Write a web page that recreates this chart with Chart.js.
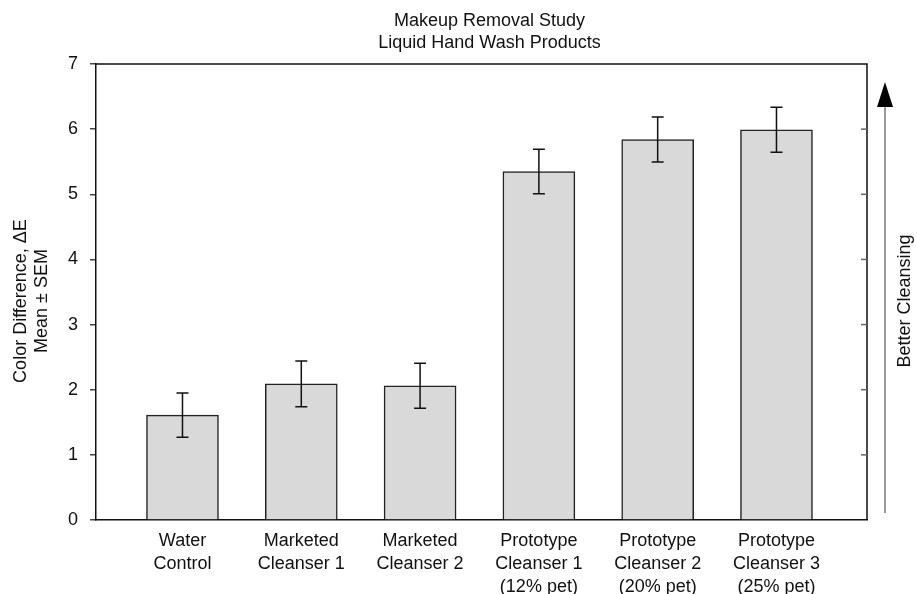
<!DOCTYPE html>
<html>
<head>
<meta charset="utf-8">
<script src="https://cdn.jsdelivr.net/npm/chart.js@4"></script>
<style>
  html, body { margin: 0; padding: 0; background: #fff; }
  #wrap { width: 917px; height: 594px; }
</style>
</head>
<body>
<div id="wrap"><canvas id="makeup-chart"></canvas></div>
<script>
const products = [
  ["Water", "Control"],
  ["Marketed", "Cleanser 1"],
  ["Marketed", "Cleanser 2"],
  ["Prototype", "Cleanser 1", "(12% pet)"],
  ["Prototype", "Cleanser 2", "(20% pet)"],
  ["Prototype", "Cleanser 3", "(25% pet)"],
];
const positions = [1, 2, 3, 4, 5, 6];
const meanDeltaE = [1.61, 2.09, 2.06, 5.35, 5.84, 5.99];
const semDeltaE = [0.34, 0.35, 0.345, 0.34, 0.345, 0.345];
const yTicks = [0, 1, 2, 3, 4, 5, 6, 7];

const FONT = "'Liberation Sans', Arial, Helvetica, sans-serif";

// frame, right-side ticks, error bars, titles and the arrow
const extras = {
  id: "extras",
  afterDatasetsDraw(chart) {
    const ctx = chart.ctx;
    const area = chart.chartArea;
    const xs = chart.scales.x;
    const ys = chart.scales.y;
    ctx.save();

    // error bars
    ctx.strokeStyle = "#111";
    ctx.lineWidth = 1.5;
    meanDeltaE.forEach((m, i) => {
      const x = xs.getPixelForValue(positions[i]);
      const top = ys.getPixelForValue(m + semDeltaE[i]);
      const bot = ys.getPixelForValue(m - semDeltaE[i]);
      ctx.beginPath();
      ctx.moveTo(x, top);
      ctx.lineTo(x, bot);
      ctx.moveTo(x - 6, top);
      ctx.lineTo(x + 6, top);
      ctx.moveTo(x - 6, bot);
      ctx.lineTo(x + 6, bot);
      ctx.stroke();
    });

    // box around plot
    ctx.strokeStyle = "#111";
    ctx.lineWidth = 1.5;
    ctx.beginPath();
    ctx.moveTo(area.left, area.top);
    ctx.lineTo(area.right, area.top);
    ctx.lineTo(area.right, area.bottom);
    ctx.stroke();

    // inner ticks on the right side
    ctx.strokeStyle = "#666";
    yTicks.forEach(v => {
      if (v === 0 || v === 7) return;
      const y = ys.getPixelForValue(v);
      ctx.beginPath();
      ctx.moveTo(area.right - 6, y);
      ctx.lineTo(area.right, y);
      ctx.stroke();
    });

    // titles
    ctx.fillStyle = "#111";
    ctx.font = "18px " + FONT;
    ctx.textAlign = "center";
    ctx.textBaseline = "middle";
    const cx = (area.left + area.right) / 2 + 8;
    ctx.fillText("Makeup Removal Study", cx, 21);
    ctx.fillText("Liquid Hand Wash Products", cx, 43);

    // y axis title
    const cy = (area.top + area.bottom) / 2 + 9;
    ctx.save();
    ctx.translate(21, cy);
    ctx.rotate(-Math.PI / 2);
    ctx.fillText("Color Difference, \u0394E", 0, 0);
    ctx.restore();
    ctx.save();
    ctx.translate(42, cy);
    ctx.rotate(-Math.PI / 2);
    ctx.fillText("Mean \u00b1 SEM", 0, 0);
    ctx.restore();

    // "better cleansing" arrow
    const ax = area.right + 18;
    ctx.strokeStyle = "#777";
    ctx.lineWidth = 1.5;
    ctx.beginPath();
    ctx.moveTo(ax, area.bottom - 7);
    ctx.lineTo(ax, area.top + 40);
    ctx.stroke();
    ctx.fillStyle = "#000";
    ctx.beginPath();
    ctx.moveTo(ax, area.top + 18);
    ctx.lineTo(ax - 8, area.top + 43);
    ctx.lineTo(ax + 8, area.top + 43);
    ctx.closePath();
    ctx.fill();

    ctx.fillStyle = "#111";
    ctx.save();
    ctx.translate(area.right + 38, cy);
    ctx.rotate(-Math.PI / 2);
    ctx.fillText("Better Cleansing", 0, 0);
    ctx.restore();

    ctx.restore();
  },
};

const config = {
  type: "bar",
  data: {
    datasets: [
      {
        label: "Color Difference",
        data: positions.map((p, i) => ({ x: p, y: meanDeltaE[i] })),
        backgroundColor: "#d9d9d9",
        borderColor: "#222",
        borderWidth: 1.5,
        barThickness: 72,
      },
    ],
  },
  options: {
    responsive: true,
    maintainAspectRatio: false,
    animation: false,
    layout: { padding: { top: 64, right: 50, left: 0, bottom: 0 } },
    plugins: {
      legend: { display: false },
      tooltip: { enabled: false },
    },
    scales: {
      x: {
        type: "linear",
        offset: false,
        min: 0.272,
        max: 6.762,
        afterBuildTicks: (scale) => {
          scale.ticks = positions.map(v => ({ value: v }));
        },
        afterFit: (scale) => { scale.height = 74; },
        grid: { display: false, drawTicks: false, offset: false },
        border: { display: true, color: "#111", width: 1.5 },
        ticks: {
          color: "#111",
          padding: 10,
          maxRotation: 0,
          autoSkip: false,
          font: { family: FONT, size: 18, lineHeight: 1.27 },
          callback: (v, i) => products[i],
        },
      },
      y: {
        min: 0,
        max: 7,
        afterBuildTicks: (scale) => {
          scale.ticks = yTicks.map(v => ({ value: v }));
        },
        afterFit: (scale) => { scale.width = 96; },
        grid: { drawOnChartArea: false, tickLength: 6, color: "#444", lineWidth: 1.5 },
        border: { display: true, color: "#111", width: 1.5 },
        ticks: {
          color: "#111",
          padding: 12,
          font: { family: FONT, size: 18 },
        },
      },
    },
  },
  plugins: [extras],
};

const makeupChart = new Chart(document.getElementById("makeup-chart"), config);
</script>
</body>
</html>
